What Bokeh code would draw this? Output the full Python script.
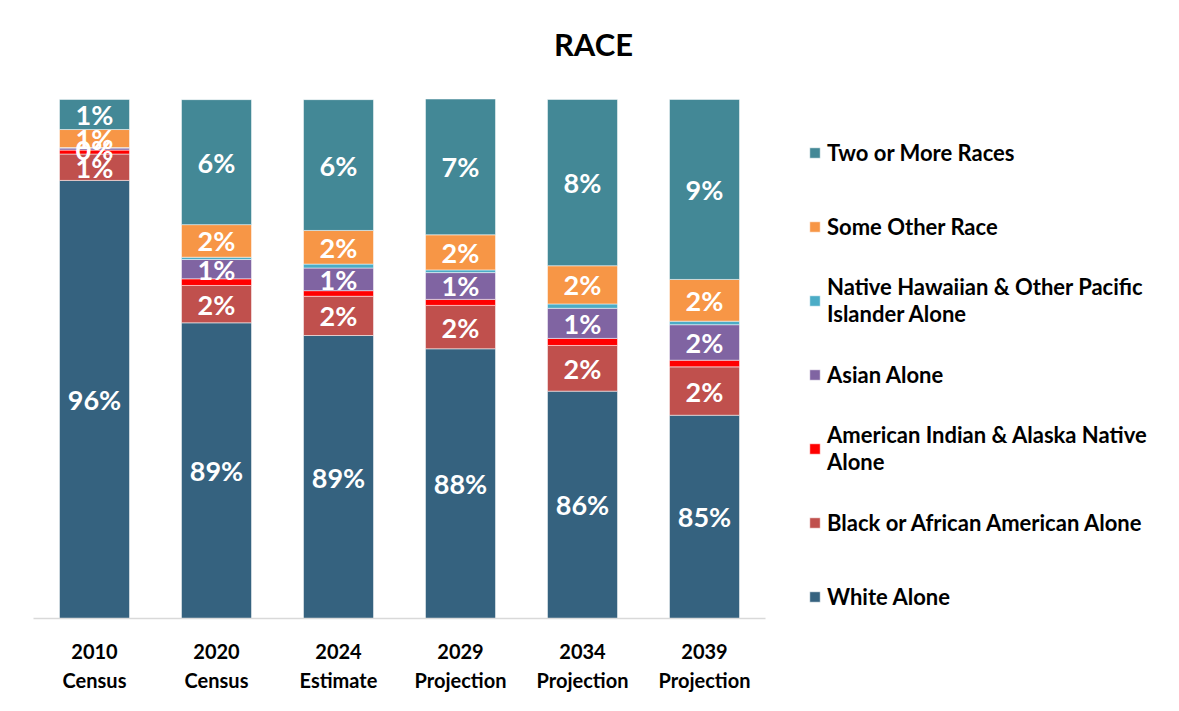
from bokeh.plotting import figure
from bokeh.models import (ColumnDataSource, Range1d, FactorRange, Legend, LegendItem, Label)
from bokeh.embed import file_html
from bokeh.resources import INLINE
from bokeh.core.properties import value

categories = ["2010\nCensus", "2020\nCensus", "2024\nEstimate", "2029\nProjection", "2034\nProjection", "2039\nProjection"]

white = [96.10, 89.24, 88.63, 87.99, 85.95, 84.79]
black = [1.27, 1.80, 1.89, 2.09, 2.20, 2.33]
aian = [0.19, 0.32, 0.27, 0.29, 0.34, 0.32]
asian = [0.10, 0.93, 1.09, 1.29, 1.45, 1.71]
nhpi = [0.02, 0.11, 0.19, 0.13, 0.21, 0.17]
other = [0.87, 1.57, 1.62, 1.69, 1.84, 2.01]
two = [1.45, 6.02, 6.30, 6.54, 8.01, 8.67]

series_keys = ["white", "black", "aian", "asian", "nhpi", "other", "two"]
series_names = ["White Alone", "Black or African American Alone",
                "American Indian & Alaska Native\nAlone", "Asian Alone",
                "Native Hawaiian & Other Pacific\nIslander Alone", "Some Other Race",
                "Two or More Races"]
colors = ["#35627F", "#C0504D", "#FF0000", "#8064A2", "#4BACC6", "#F79646", "#438896"]
show_labels = [True, True, False, True, False, True, True]

title_text = "RACE"
y_min = 75.0
y_max = 104.38   # headroom above the 100% bar tops holds the chart title
FONT = "Lato"

data = dict(cat=categories, white=white, black=black, aian=aian, asian=asian,
            nhpi=nhpi, other=other, two=two)
source = ColumnDataSource(data)

p = figure(x_range=FactorRange(factors=categories, range_padding=0),
           y_range=Range1d(y_min, y_max),
           frame_width=732, frame_height=610, output_backend="svg", toolbar_location=None,
           min_border_left=33, min_border_right=50, min_border_top=8, min_border_bottom=10)

renderers = p.vbar_stack(series_keys, x="cat", width=0.574, color=colors, source=source,
                         line_color="white", line_alpha=0.5, line_width=1)

# data labels
lx, ly, lt = [], [], []
arrays = [white, black, aian, asian, nhpi, other, two]
bottom = [0.0] * len(categories)
for arr, show in zip(arrays, show_labels):
    for i, v in enumerate(arr):
        b = bottom[i]
        t = b + v
        if show:
            lx.append(categories[i])
            ly.append((max(b, y_min) + t) / 2)
            lt.append(f"{round(v):.0f}%")
        bottom[i] = t
p.text(x=lx, y=ly, text=lt, text_color="white", text_font=value(FONT),
       text_font_style="bold", text_font_size="27px", text_align="center",
       text_baseline="middle")

p.add_layout(Label(text=title_text, x=4.59, y=102.65,
                   text_font=FONT, text_font_size="31px", text_font_style="bold",
                   text_align="center", text_baseline="middle", text_color="#000000"))

p.yaxis.visible = False
p.xgrid.visible = False
p.ygrid.visible = False
p.outline_line_color = None

ax = p.xaxis[0]
ax.major_tick_line_color = None
ax.minor_tick_line_color = None
ax.major_label_text_font = FONT
ax.major_label_text_font_style = "bold"
ax.major_label_text_font_size = "20px"
ax.major_label_text_color = "#000000"
ax.major_label_text_line_height = 1.24
ax.major_label_standoff = 14
ax.axis_line_color = "#D9D9D9"
ax.axis_line_width = 1.5

items = [LegendItem(label=n, renderers=[r]) for n, r in zip(series_names, renderers)]
items = items[::-1]
legend = Legend(items=items, location=(43, -6), margin=0, padding=0,
                border_line_color=None, background_fill_alpha=0,
                glyph_width=13, glyph_height=13, label_standoff=6,
                spacing=18, label_height=56,
                label_text_font=FONT, label_text_font_style="bold",
                label_text_font_size="22px", label_text_color="#000000",
                label_text_line_height=1.6)
p.add_layout(legend, "right")

open("out.html", "w").write(file_html(p, INLINE))
